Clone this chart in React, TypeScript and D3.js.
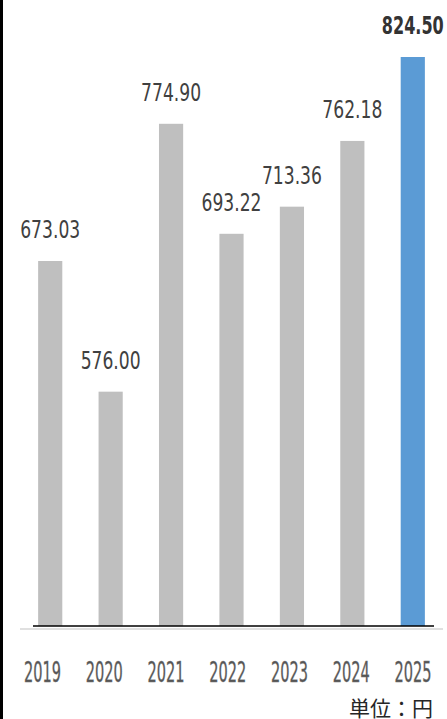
import React from "react";
import * as d3 from "d3";

const years = ["2019", "2020", "2021", "2022", "2023", "2024", "2025"];
const values = [673.03, 576.0, 774.9, 693.22, 713.36, 762.18, 824.5];
const labels = ["673.03", "576.00", "774.90", "693.22", "713.36", "762.18", "824.50"];
const unitLabel = "単位：円";

const W = 447;
const H = 719;

export default function App() {
  const x = d3.scaleBand<string>().domain(years).range([20, 443]).paddingInner(0.6).paddingOuter(0.3);
  const xl = d3.scalePoint<string>().domain(years).range([42.5, 413]);
  const y = d3.scaleLinear().domain([402, 824.5]).range([626, 57]);
  const narrow = "'Liberation Sans Narrow', 'DejaVu Sans Condensed', 'Roboto Condensed', 'Liberation Sans', sans-serif";
  return (
    <svg width={W} height={H} style={{ position: "fixed", left: 0, top: 0, display: "block", background: "#fff" }}>
      <rect x={0} y={0} width={W} height={H} fill="#fff" />
      <rect x={0} y={0} width={3} height={H} fill="#000" />
      {years.map((yr, i) => {
        const last = i === years.length - 1;
        const bx = x(yr)!;
        const bw = x.bandwidth();
        const cx = bx + bw / 2;
        return (
          <g key={yr}>
            <rect x={bx} y={y(values[i])} width={bw} height={626 - y(values[i])} fill={last ? "#5B9BD5" : "#BFBFBF"} />
            <text
              x={cx}
              y={y(values[i]) - 23}
              textAnchor="middle"
              fontFamily={narrow}
              fontSize={25}
              fontWeight={last ? "bold" : "normal"}
              fill={last ? "#333333" : "#404040"}
              textLength={last ? 62 : 60}
              lengthAdjust="spacingAndGlyphs"
            >
              {labels[i]}
            </text>
            <text
              x={xl(yr)!}
              y={682}
              textAnchor="middle"
              fontFamily={narrow}
              fontSize={28}
              fill="#555555"
              stroke="#777777"
              strokeWidth={0.4}
              textLength={37}
              lengthAdjust="spacingAndGlyphs"
            >
              {yr}
            </text>
          </g>
        );
      })}
      <rect x={20} y={628} width={423} height={2} fill="#E0E0E0" />
      <line x1={33} x2={434} y1={626} y2={626} stroke="#000" strokeWidth={1.5} />
      <text x={433} y={716} textAnchor="end" fontFamily="'Noto Sans CJK JP', sans-serif" fontSize={21} fill="#262626">
        {unitLabel}
      </text>
    </svg>
  );
}
